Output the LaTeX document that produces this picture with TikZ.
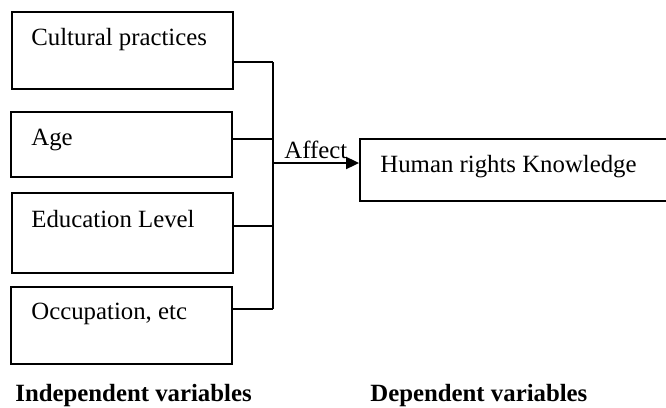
\documentclass[tikz,border=0pt]{standalone}
\usepackage{fontspec}
\setmainfont{Liberation Serif}
\usetikzlibrary{arrows.meta}
\begin{document}
\begin{tikzpicture}[x=0.5pt,y=-0.5pt,
  box/.style={draw, line width=0.9pt, inner sep=0pt, rectangle},
  lbl/.style={anchor=base west, inner sep=0pt, font=\fontsize{12.4pt}{14pt}\selectfont},
  bold/.style={lbl, font=\fontsize{12.4pt}{14pt}\selectfont\bfseries},
  conn/.style={line width=0.9pt},
  arr/.style={line width=0.9pt, -{Triangle[length=6.5pt,width=6pt]}}]
\useasboundingbox (0,0) rectangle (666,408);
% boxes
\node[box, minimum width=110.5pt, minimum height=38.5pt] (b1) at (122.5,50.5) {};
\node[box, minimum width=110.5pt, minimum height=32.5pt] (b2) at (121.5,144.5) {};
\node[box, minimum width=110.5pt, minimum height=40pt] (b3) at (122.5,233) {};
\node[box, minimum width=110.5pt, minimum height=38.5pt] (b4) at (121.5,325.5) {};
\node[box, minimum width=154pt, minimum height=31pt] (b5) at (514,170) {};
% texts
\node[lbl] (t1) at (31,45) {Cultural practices};
\node[lbl] (t2) at (31,145) {Age};
\node[lbl] (t3) at (31,227) {Education Level};
\node[lbl] (t4) at (31,319) {Occupation, etc};
\node[lbl] (t5) at (380,172) {Human rights Knowledge};
\node[lbl] (aff) at (284,158) {Affect};
\node[bold] (ind) at (15,401) {Independent variables};
\node[bold] (dep) at (370,401) {Dependent variables};
% junctions
\coordinate (j1) at (273,62);
\coordinate (j2) at (273,139);
\coordinate (j3) at (273,226);
\coordinate (j4) at (273,309);
\coordinate (j5) at (273,163);
\draw[conn] (b1.east |- j1) -- (j1);
\draw[conn] (b2.east |- j2) -- (j2);
\draw[conn] (b3.east |- j3) -- (j3);
\draw[conn] (b4.east |- j4) -- (j4);
\draw[conn] (j1) -- (j4);
\draw[arr] (j5) -- (b5.west |- j5);
\end{tikzpicture}
\end{document}
